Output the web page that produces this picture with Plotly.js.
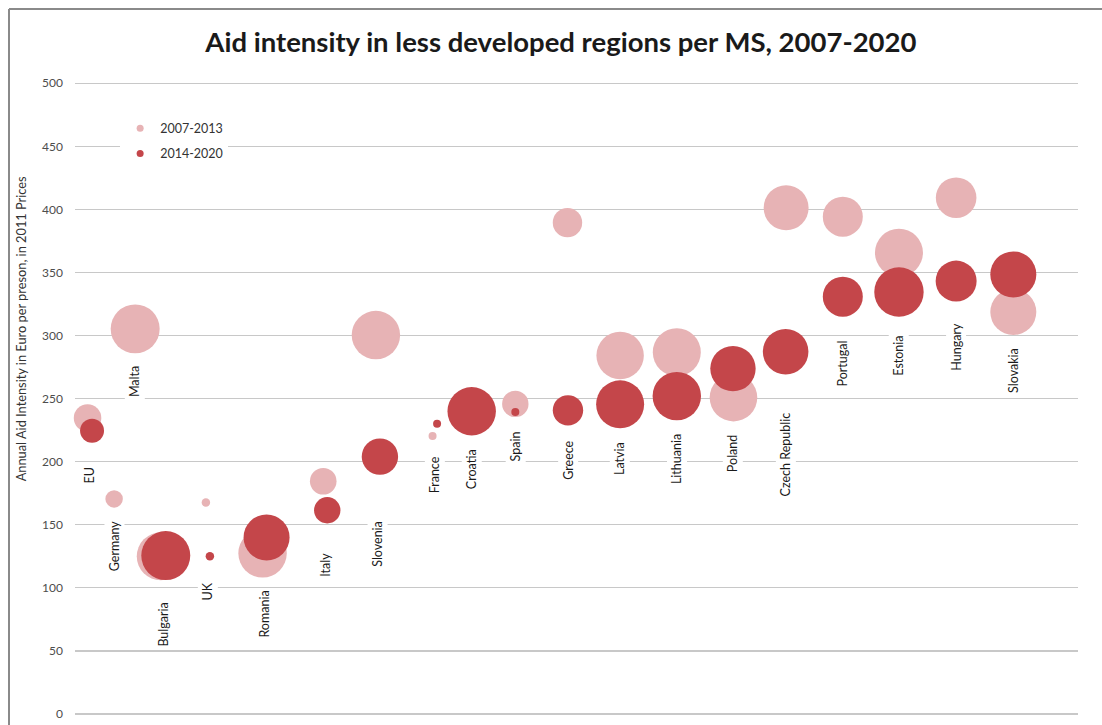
<!DOCTYPE html>
<html>
<head>
<meta charset="utf-8">
<script src="https://cdn.plot.ly/plotly-3.0.1.min.js"></script>
<style>
  html, body { margin: 0; padding: 0; background: #ffffff; }
  #chart { width: 1102px; height: 725px; }
</style>
</head>
<body>
<div id="chart"></div>
<script>
// ---------- DATA ----------
var countries = ['EU', 'Germany', 'Malta', 'Bulgaria', 'UK', 'Romania', 'Italy', 'Slovenia', 'France', 'Croatia',
                 'Spain', 'Greece', 'Latvia', 'Lithuania', 'Poland', 'Czech Republic', 'Portugal', 'Estonia', 'Hungary', 'Slovakia'];

// horizontal position of each bubble (hidden x axis, arbitrary units)
var x2007 = [0.25, 0.78, 1.20, 1.71, 2.61, 3.74, 4.95, 6.00, 7.13, null,
             8.78, 9.82, 10.87, 12.00, 13.13, 14.18, 15.31, 16.43, 17.57, 18.71];
var x2014 = [0.34, null, null, 1.81, 2.69, 3.82, 5.03, 6.08, 7.22, 7.91,
             8.78, 9.83, 10.87, 12.00, 13.12, 14.17, 15.31, 16.43, 17.57, 18.71];

// Annual aid intensity (EUR per person, 2011 prices)
var aid2007 = [234.7, 170.5, 305.3, 125.0, 167.6, 127.4, 184.5, 300.4, 220.4, null,
               245.8, 389.5, 284.2, 286.8, 250.8, 401.3, 394.2, 365.7, 409.3, 318.6];
var aid2014 = [224.6, null, null, 125.6, 125.0, 140.0, 161.5, 204.0, 230.0, 240.0,
               239.4, 240.7, 245.5, 252.0, 273.8, 287.2, 330.8, 334.5, 343.2, 348.5];

// bubble size (area units)
var size2007 = [190, 76, 600, 576, 18, 586, 177, 586, 16, null,
                174, 216, 562, 576, 566, 506, 400, 576, 412, 529];
var size2014 = [144, null, null, 600, 18, 529, 174, 331, 16, 586,
                16, 231, 576, 586, 515, 520, 400, 610, 420, 529];

var seriesNames = ['2007-2013', '2014-2020'];

// ---------- STYLE ----------
var lightColor = '#E7B3B5';
var darkColor = '#C4464A';
var SIZEREF = 0.5;           // radius(px) = sqrt(size / (2*SIZEREF))
var labelGap = [22, 10, 10, 19, 19, 10, 26, 43, 13, 11, 11, 12, 11, 11, 11, 35, 21, 16, 18, 10];
var FONT = 'Lato, "Open Sans", sans-serif';

function radius(s) { return s ? Math.sqrt(s / (2 * SIZEREF)) : 0; }

var traces = [
  {
    type: 'scatter', mode: 'markers', name: seriesNames[0], showlegend: false,
    x: x2007, y: aid2007,
    marker: { size: size2007, sizemode: 'area', sizeref: SIZEREF, color: lightColor, opacity: 1, line: { width: 0 } },
    hoverinfo: 'skip', cliponaxis: false
  },
  {
    type: 'scatter', mode: 'markers', name: seriesNames[1], showlegend: false,
    x: x2014, y: aid2014,
    marker: { size: size2014, sizemode: 'area', sizeref: SIZEREF, color: darkColor, opacity: 1, line: { width: 0 } },
    hoverinfo: 'skip', cliponaxis: false
  },
  // legend entries
  { type: 'scatter', mode: 'markers', name: seriesNames[0], x: [null], y: [null], legendgroup: 'a',
    marker: { size: 7, color: lightColor } },
  { type: 'scatter', mode: 'markers', name: seriesNames[1], x: [null], y: [null], legendgroup: 'b',
    marker: { size: 7, color: darkColor } }
];

var PLOT_H = 632, Y_MAX = 501;

// country labels under the bubbles
var annotations = countries.map(function (c, i) {
  var xs = [x2007[i], x2014[i]].filter(function (v) { return v !== null; });
  var xm = xs.reduce(function (a, b) { return a + b; }, 0) / xs.length;
  var cands = [];
  if (aid2007[i] !== null) cands.push({ y: aid2007[i], r: radius(size2007[i]) });
  if (aid2014[i] !== null) cands.push({ y: aid2014[i], r: radius(size2014[i]) });
  var ppu = PLOT_H / Y_MAX;
  var best = cands[0];
  cands.forEach(function (cd) { if ((cd.y * ppu - cd.r) < (best.y * ppu - best.r)) best = cd; });
  return {
    x: xm, y: best.y, xref: 'x', yref: 'y',
    text: c, showarrow: false, textangle: -90,
    xanchor: 'center', yanchor: 'top',
    yshift: -(best.r + labelGap[i]),
    bgcolor: '#ffffff', borderpad: 2,
    font: { family: FONT, size: 12.5, color: '#1a1a1a' }
  };
});

// y axis title
annotations.push({
  xref: 'paper', yref: 'paper', x: -0.053, y: 0.61,
  text: 'Annual Aid Intensity in Euro per preson, in 2011 Prices',
  showarrow: false, textangle: -90, xanchor: 'center', yanchor: 'middle',
  font: { family: FONT, size: 12.8, color: '#333333' }
});

var layout = {
  width: 1102, height: 725,
  paper_bgcolor: '#ffffff', plot_bgcolor: '#ffffff',
  margin: { l: 75, r: 24, t: 82, b: 11, pad: 0 },
  title: {
    text: '<b>Aid intensity in less developed regions per MS, 2007-2020</b>',
    x: 0.509, xanchor: 'center', xref: 'container',
    y: 0.942, yanchor: 'middle', yref: 'container',
    font: { family: FONT, size: 27.5, color: '#1a1a1a' }
  },
  xaxis: { range: [0, 20], visible: false, showgrid: false, zeroline: false, fixedrange: true },
  yaxis: {
    range: [0, Y_MAX], dtick: 50, tick0: 0,
    showgrid: true, gridcolor: '#c8c8c8', gridwidth: 1.3,
    zeroline: true, zerolinecolor: '#c8c8c8', zerolinewidth: 1.3,
    showline: false, ticks: '', ticklabelstandoff: 11,
    tickfont: { family: FONT, size: 12, color: '#4d4d4d' },
    fixedrange: true
  },
  showlegend: true,
  legend: {
    x: 0.045, xanchor: 'left', y: 0.95, yanchor: 'top',
    bgcolor: '#ffffff', borderwidth: 0,
    traceorder: 'grouped', tracegroupgap: 6,
    font: { family: FONT, size: 12.5, color: '#333333' }
  },
  annotations: annotations,
  shapes: [
    { type: 'line', xref: 'paper', yref: 'paper', x0: -0.0658, x1: 1.03, y0: 1.1155, y1: 1.1155,
      line: { color: '#8a8a8a', width: 2 } },
    { type: 'line', xref: 'paper', yref: 'paper', x0: -0.0658, x1: -0.0658, y0: 1.1155, y1: -0.05,
      line: { color: '#8a8a8a', width: 2 } }
  ],
  hovermode: false
};

Plotly.newPlot('chart', traces, layout, { displayModeBar: false, staticPlot: true });
</script>
</body>
</html>
